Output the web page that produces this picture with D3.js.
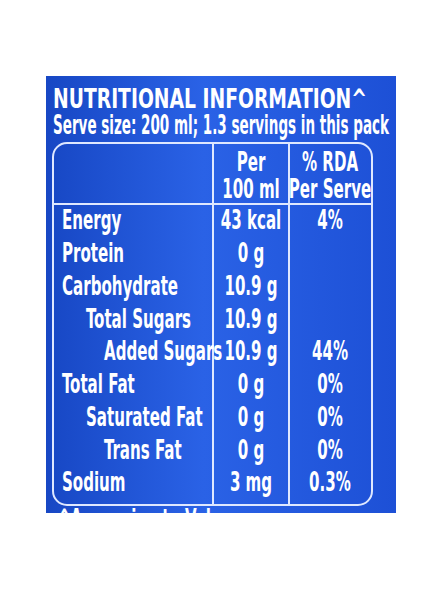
<!DOCTYPE html>
<head>
  <script src="https://d3js.org/d3.v7.min.js"></script>
  <style>body{margin:0;background:#fff}</style>
</head>
<body>
  <svg width="442" height="590"></svg>
  <script>
    const nutrients = ["Energy", "Protein", "Carbohydrate", "Total Sugars", "Added Sugars", "Total Fat", "Saturated Fat", "Trans Fat", "Sodium"];
    const indent = [0, 0, 0, 1, 2, 0, 1, 2, 0];
    const per100 = ["43 kcal", "0 g", "10.9 g", "10.9 g", "10.9 g", "0 g", "0 g", "0 g", "3 mg"];
    const rda = ["4%", "", "", "", "44%", "0%", "0%", "0%", "0.3%"];
    const headers = [["Per", "100 ml"], ["% RDA", "Per Serve"]];

    const font = "'Liberation Sans Narrow','DejaVu Sans Condensed',sans-serif";
    const svg = d3.select("svg");
    const defs = svg.append("defs");
    const g = defs.append("linearGradient").attr("id", "bg");
    g.append("stop").attr("offset", "0").attr("stop-color", "#1747c4");
    g.append("stop").attr("offset", "0.45").attr("stop-color", "#2a62e6");
    g.append("stop").attr("offset", "1").attr("stop-color", "#1d50d6");
    defs.append("clipPath").attr("id", "clip").append("rect")
      .attr("x", 46).attr("y", 76).attr("width", 350).attr("height", 437);

    const root = svg.append("g").attr("clip-path", "url(#clip)");
    root.append("rect").attr("x", 46).attr("y", 76).attr("width", 350).attr("height", 437).attr("fill", "url(#bg)");

    // condensed look: squeeze glyphs horizontally
    const sx = 0.62;
    const txt = (x, y, s, size, anchor) => root.append("text")
      .attr("transform", `translate(${x},${y}) scale(${sx},1)`).text(s)
      .attr("fill", "#fff").attr("font-family", font).attr("font-weight", "bold")
      .attr("font-size", size).attr("text-anchor", anchor || "start");

    root.append("text").attr("x", 53).attr("y", 108).text("NUTRITIONAL INFORMATION^")
      .attr("fill", "#fff").attr("font-family", font).attr("font-weight", "bold").attr("font-size", 26)
      .attr("textLength", 314).attr("lengthAdjust", "spacingAndGlyphs");
    root.append("text").attr("x", 53).attr("y", 134).text("Serve size: 200 ml; 1.3 servings in this pack")
      .attr("fill", "#fff").attr("font-family", font).attr("font-weight", "bold").attr("font-size", 26)
      .attr("textLength", 336).attr("lengthAdjust", "spacingAndGlyphs");
    txt(58, 528, "^Approximate Value", 27);

    // table frame
    root.append("rect").attr("x", 53).attr("y", 143).attr("width", 319).attr("height", 362)
      .attr("rx", 14).attr("fill", "none").attr("stroke", "#dfe8ff").attr("stroke-width", 2);
    const colX = [213, 289];
    colX.forEach(x => root.append("line").attr("x1", x).attr("x2", x).attr("y1", 143).attr("y2", 505)
      .attr("stroke", "#dfe8ff").attr("stroke-width", 2));
    root.append("line").attr("x1", 53).attr("x2", 372).attr("y1", 204).attr("y2", 204)
      .attr("stroke", "#dfe8ff").attr("stroke-width", 2);

    headers.forEach((h, i) => {
      const cx = i === 0 ? 251 : 330;
      txt(cx, 171, h[0], 27, "middle");
      txt(cx, 198, h[1], 27, "middle");
    });

    const y = d3.scaleBand().domain(nutrients).range([205, 500]);
    const ix = d3.scaleOrdinal().domain([0, 1, 2]).range([62, 86, 104]);
    nutrients.forEach((n, i) => {
      const by = y(n) + y.bandwidth() * 0.74;
      txt(ix(indent[i]), by, n, 27);
      txt(251, by, per100[i], 27, "middle");
      if (rda[i]) txt(330, by, rda[i], 27, "middle");
    });
  </script>
</body>
